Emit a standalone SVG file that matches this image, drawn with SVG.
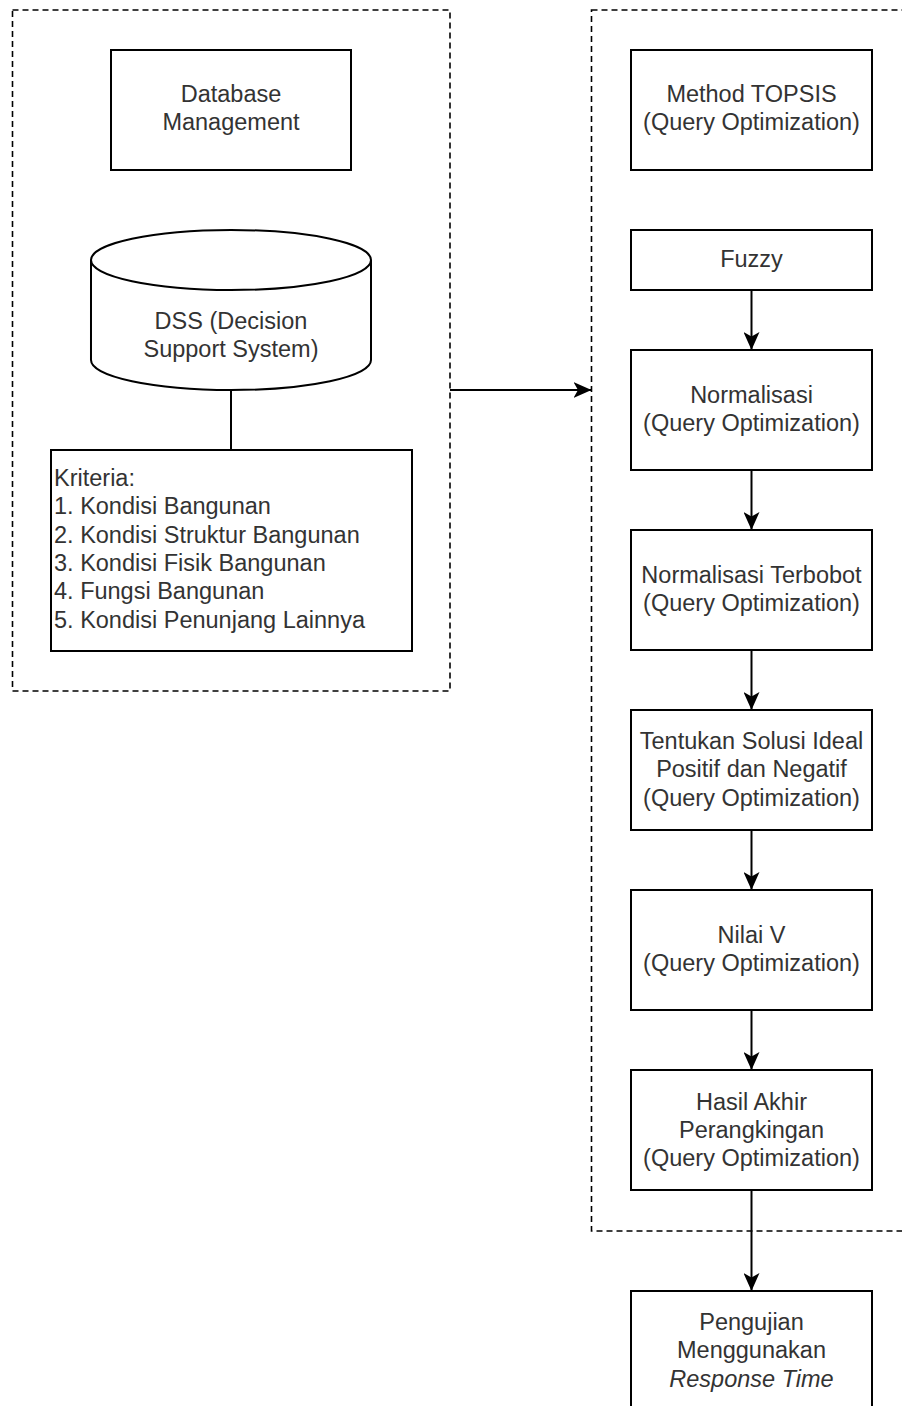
<svg xmlns="http://www.w3.org/2000/svg" width="902" height="1406" viewBox="0 0 902 1406">
<style>
.box{fill:#fff;stroke:#000;stroke-width:2}
.grp{fill:none;stroke:#000;stroke-width:1.6;stroke-dasharray:6 4}
.t{font-family:"Liberation Sans",Arial,sans-serif;font-size:23.5px;fill:#333;text-anchor:middle}
.tl{font-family:"Liberation Sans",Arial,sans-serif;font-size:23.5px;fill:#333;text-anchor:start}
.edge{fill:none;stroke:#000;stroke-width:2}
</style>
<defs>
<marker id="arr" viewBox="0 0 18 16" refX="18" refY="8" markerWidth="18" markerHeight="16" markerUnits="userSpaceOnUse" orient="auto">
<path d="M0,0 L18,8 L0,16 L4.5,8 Z" fill="#000"/>
</marker>
</defs>
<rect width="902" height="1406" fill="#fff"/>
<g id="group-left"><rect class="grp" x="12.5" y="10" width="437.5" height="681"/></g>
<g id="group-right"><rect class="grp" x="591.5" y="10" width="330" height="1221"/></g>

<g id="connectors">
<line class="edge" x1="231" y1="390" x2="231" y2="450"/>
<line class="edge" x1="450" y1="390" x2="591.5" y2="390" marker-end="url(#arr)"/>
<line class="edge" x1="751.5" y1="290" x2="751.5" y2="350" marker-end="url(#arr)"/>
<line class="edge" x1="751.5" y1="470" x2="751.5" y2="530" marker-end="url(#arr)"/>
<line class="edge" x1="751.5" y1="650" x2="751.5" y2="710" marker-end="url(#arr)"/>
<line class="edge" x1="751.5" y1="830" x2="751.5" y2="890" marker-end="url(#arr)"/>
<line class="edge" x1="751.5" y1="1010" x2="751.5" y2="1070" marker-end="url(#arr)"/>
<line class="edge" x1="751.5" y1="1190" x2="751.5" y2="1291" marker-end="url(#arr)"/>
</g>

<g id="database-management">
<rect class="box" x="111" y="50" width="240" height="120"/>
<text class="t" x="231" y="102">Database</text>
<text class="t" x="231" y="130.3">Management</text>
</g>

<g id="dss">
<path class="box" d="M91,260 A140,30 0 0 1 371,260 L371,360 A140,30 0 0 1 91,360 Z"/>
<path class="edge" d="M91,260 A140,30 0 0 0 371,260"/>
<text class="t" x="231" y="329">DSS (Decision</text>
<text class="t" x="231" y="357.3">Support System)</text>
</g>

<g id="kriteria">
<rect class="box" x="51" y="450" width="361" height="201"/>
<text class="tl" x="54" y="486">Kriteria:</text>
<text class="tl" x="54" y="514.3">1. Kondisi Bangunan</text>
<text class="tl" x="54" y="542.6">2. Kondisi Struktur Bangunan</text>
<text class="tl" x="54" y="570.9">3. Kondisi Fisik Bangunan</text>
<text class="tl" x="54" y="599.2">4. Fungsi Bangunan</text>
<text class="tl" x="54" y="627.5">5. Kondisi Penunjang Lainnya</text>
</g>

<g id="method-topsis">
<rect class="box" x="631" y="50" width="241" height="120"/>
<text class="t" x="751.5" y="102">Method TOPSIS</text>
<text class="t" x="751.5" y="130.3">(Query Optimization)</text>
</g>

<g id="fuzzy">
<rect class="box" x="631" y="230" width="241" height="60"/>
<text class="t" x="751.5" y="267">Fuzzy</text>
</g>

<g id="normalisasi">
<rect class="box" x="631" y="350" width="241" height="120"/>
<text class="t" x="751.5" y="402.5">Normalisasi</text>
<text class="t" x="751.5" y="430.8">(Query Optimization)</text>
</g>

<g id="normalisasi-terbobot">
<rect class="box" x="631" y="530" width="241" height="120"/>
<text class="t" x="751.5" y="582.5">Normalisasi Terbobot</text>
<text class="t" x="751.5" y="610.8">(Query Optimization)</text>
</g>

<g id="solusi-ideal">
<rect class="box" x="631" y="710" width="241" height="120"/>
<text class="t" x="751.5" y="749">Tentukan Solusi Ideal</text>
<text class="t" x="751.5" y="777.3">Positif dan Negatif</text>
<text class="t" x="751.5" y="805.6">(Query Optimization)</text>
</g>

<g id="nilai-v">
<rect class="box" x="631" y="890" width="241" height="120"/>
<text class="t" x="751.5" y="942.5">Nilai V</text>
<text class="t" x="751.5" y="970.8">(Query Optimization)</text>
</g>

<g id="hasil-akhir">
<rect class="box" x="631" y="1070" width="241" height="120"/>
<text class="t" x="751.5" y="1109.5">Hasil Akhir</text>
<text class="t" x="751.5" y="1137.8">Perangkingan</text>
<text class="t" x="751.5" y="1166.1">(Query Optimization)</text>
</g>

<g id="pengujian">
<rect class="box" x="631" y="1291" width="241" height="120"/>
<text class="t" x="751.5" y="1330">Pengujian</text>
<text class="t" x="751.5" y="1358.3">Menggunakan</text>
<text class="t" x="751.5" y="1386.6" font-style="italic">Response Time</text>
</g>
</svg>
